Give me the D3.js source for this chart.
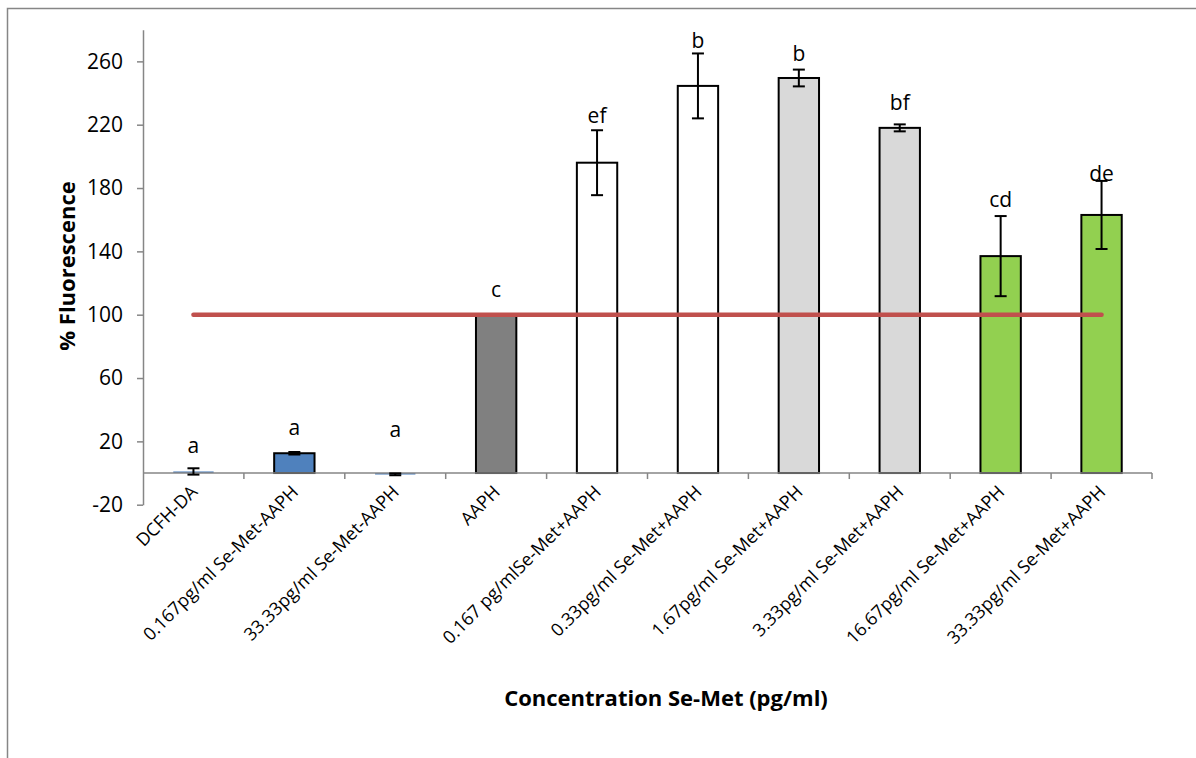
<!DOCTYPE html>
<html>
<head>
<meta charset="utf-8">
<script src="https://cdn.jsdelivr.net/npm/d3@7"></script>
<style>
  html, body { margin: 0; padding: 0; background: #fff; }
  svg { display: block; }
</style>
</head>
<body>
<svg id="chart" width="1196" height="758"></svg>
<script>
// ---- data ----
const categories = [
  "DCFH-DA",
  "0.167pg/ml Se-Met-AAPH",
  "33.33pg/ml Se-Met-AAPH",
  "AAPH",
  "0.167 pg/mlSe-Met+AAPH",
  "0.33pg/ml Se-Met+AAPH",
  "1.67pg/ml Se-Met+AAPH",
  "3.33pg/ml Se-Met+AAPH",
  "16.67pg/ml Se-Met+AAPH",
  "33.33pg/ml Se-Met+AAPH"
];
const values   = [1, 12.5, -0.8, 100, 196, 244.5, 249.5, 218, 137, 163];
const errors   = [2, 0.8, 0.6, 0, 20.5, 20.5, 5.3, 2.2, 25.3, 21.5];
const letters  = ["a", "a", "a", "c", "ef", "b", "b", "bf", "cd", "de"];
const letterAt = [12.8, 24, 23, 111.4, 221, 268.5, 260.5, 229.3, 168.2, 184.6];
const referenceValue = 100;
const yTicks = [-20, 20, 60, 100, 140, 180, 220, 260];
const yDomain = [-20, 280];
const yTitle = "% Fluorescence";
const xTitle = "Concentration Se-Met (pg/ml)";

// ---- styles ----
const fills   = ["#4F81BD", "#4F81BD", "#4F81BD", "#808080", "#FFFFFF", "#FFFFFF", "#D9D9D9", "#D9D9D9", "#92D050", "#92D050"];
const strokes = ["none", "#000", "none", "#000", "#000", "#000", "#000", "#000", "#000", "#000"];
const FONT = "'Open Sans', 'DejaVu Sans', sans-serif";

const svg = d3.select("#chart");

// outer chart border
svg.append("rect")
  .attr("x", 7.5).attr("y", 8.5)
  .attr("width", 1300).attr("height", 900)
  .attr("fill", "none").attr("stroke", "#868686").attr("stroke-width", 1.5);

const x = d3.scaleBand().domain(categories).range([143, 1152]).paddingInner(0.6).paddingOuter(0.3);
const y = d3.scaleLinear().domain(yDomain).range([504.7, 29.7]);
const bw = x.bandwidth();
const cx = c => x(c) + bw / 2;

// y axis
const yAxis = d3.axisLeft(y).tickValues(yTicks).tickFormat(d => String(d))
  .tickSize(6).tickPadding(14).tickSizeOuter(0);
const gy = svg.append("g").attr("transform", "translate(143,0)").call(yAxis);
gy.attr("font-size", null).attr("font-family", null);
gy.select(".domain").attr("stroke", "#868686").attr("stroke-width", 1.5);
gy.selectAll(".tick line").attr("stroke", "#868686").attr("stroke-width", 1.5);
gy.selectAll(".tick text").attr("font-family", FONT).attr("font-size", 21).attr("fill", "#000");

// bars
const data = categories.map((c, i) => ({ c, v: values[i], e: errors[i], l: letters[i], la: letterAt[i], f: fills[i], s: strokes[i] }));
svg.append("g").selectAll("rect").data(data).join("rect")
  .attr("x", d => x(d.c))
  .attr("width", bw)
  .attr("y", d => Math.min(y(d.v), y(0)))
  .attr("height", d => Math.max(Math.abs(y(d.v) - y(0)), 1.5))
  .attr("fill", d => d.f)
  .attr("stroke", d => d.s)
  .attr("stroke-width", 2);

// x axis at zero
const boundaries = d3.range(1, categories.length + 1).map(i => 143 + i * x.step());
svg.append("line")
  .attr("x1", 143).attr("x2", 1152).attr("y1", y(0)).attr("y2", y(0))
  .attr("stroke", "#868686").attr("stroke-width", 1.5);
svg.append("g").selectAll("line").data(boundaries).join("line")
  .attr("x1", d => d).attr("x2", d => d)
  .attr("y1", y(0)).attr("y2", y(0) + 6)
  .attr("stroke", "#868686").attr("stroke-width", 1.5);

// category labels
svg.append("g").selectAll("text").data(categories).join("text")
  .attr("transform", c => `translate(${cx(c) + 5},${y(0) + 20}) rotate(-45)`)
  .attr("text-anchor", "end")
  .attr("font-family", FONT).attr("font-size", 18).attr("fill", "#000")
  .text(c => c);

// reference line
svg.append("line")
  .attr("x1", cx(categories[0])).attr("x2", cx(categories[categories.length - 1]))
  .attr("y1", y(referenceValue)).attr("y2", y(referenceValue))
  .attr("stroke", "#C0504D").attr("stroke-width", 4.5).attr("stroke-linecap", "round");

// error bars
const eb = svg.append("g").selectAll("g").data(data.filter(d => d.e > 0)).join("g");
eb.append("line")
  .attr("x1", d => cx(d.c)).attr("x2", d => cx(d.c))
  .attr("y1", d => y(d.v + d.e)).attr("y2", d => y(d.v - d.e))
  .attr("stroke", "#000").attr("stroke-width", 2);
eb.selectAll("line.cap").data(d => [[d, d.v + d.e], [d, d.v - d.e]]).join("line")
  .attr("class", "cap")
  .attr("x1", p => cx(p[0].c) - 6).attr("x2", p => cx(p[0].c) + 6)
  .attr("y1", p => y(p[1])).attr("y2", p => y(p[1]))
  .attr("stroke", "#000").attr("stroke-width", 2);

// significance letters
svg.append("g").selectAll("text").data(data).join("text")
  .attr("x", d => cx(d.c))
  .attr("y", d => y(d.la))
  .attr("text-anchor", "middle")
  .attr("font-family", FONT).attr("font-size", 21).attr("fill", "#000")
  .text(d => d.l);

// axis titles
svg.append("text")
  .attr("transform", `translate(75,266) rotate(-90)`)
  .attr("text-anchor", "middle")
  .attr("font-family", FONT).attr("font-size", 22).attr("font-weight", "bold")
  .text(yTitle);
svg.append("text")
  .attr("x", 666).attr("y", 706)
  .attr("text-anchor", "middle")
  .attr("font-family", FONT).attr("font-size", 22).attr("font-weight", "bold")
  .text(xTitle);
</script>
</body>
</html>
